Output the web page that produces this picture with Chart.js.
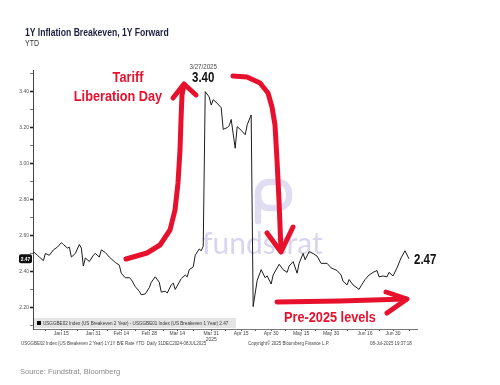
<!DOCTYPE html>
<html>
<head>
<meta charset="utf-8">
<script src="https://cdn.jsdelivr.net/npm/chart.js@4.4.1/dist/chart.umd.min.js"></script>
<style>
  html, body { margin: 0; padding: 0; background: #fff; }
  #wrap { position: relative; width: 500px; height: 385px; overflow: hidden; }
  #c { position: absolute; left: 0; top: 0; }
  .t { position: absolute; white-space: nowrap; line-height: 1; font-family: 'Liberation Sans', Arial, sans-serif; }
  .narrow { transform: scaleX(0.82); transform-origin: 0 0; }
</style>
</head>
<body>
<div id="wrap">
  <canvas id="c" width="500" height="385"></canvas>
  <div class="t narrow" style="left:25px;top:27px;font-size:10.5px;font-weight:bold;color:#1d2040">1Y Inflation Breakeven, 1Y Forward</div>
  <div class="t narrow" style="left:25px;top:39px;font-size:8.5px;color:#333">YTD</div>
  <div class="t" style="left:20px;top:368px;font-size:7.5px;color:#8a8a8a">Source: Fundstrat, Bloomberg</div>
</div>

<script>
// days counted from Jan 1 2025 (= 0), values in %
const days = [
  0, 2, 3, 5, 6, 8, 10, 12, 14, 15, 17, 18, 19, 21, 23, 24, 25, 26, 28, 30,
  31, 33, 34, 36, 38, 41, 43, 44, 46, 48, 49, 51, 53, 54, 56, 58, 59, 61, 63, 64,
  66, 67, 69, 70, 71, 73, 74, 76, 77, 78, 80, 81, 83, 84, 85,
  86, 88, 89, 90, 92, 94, 95, 97, 98, 99, 101, 102, 104, 106, 107, 109,
  110, 112, 114, 116, 117, 119, 120, 123, 125, 127, 128, 130, 132, 133, 135, 136, 138, 140,
  142, 144, 147, 149, 152, 154, 155, 157, 158, 160, 163, 164, 166, 168, 170, 172, 173,
  175, 177, 178, 180, 182, 184, 186, 188
];
const values = [
  2.51, 2.49, 2.48, 2.46, 2.50, 2.49, 2.52, 2.535, 2.56, 2.55, 2.53, 2.535, 2.48, 2.50, 2.55, 2.53, 2.43, 2.475, 2.455, 2.49,
  2.50, 2.48, 2.52, 2.505, 2.48, 2.45, 2.435, 2.39, 2.365, 2.365, 2.355, 2.315, 2.29, 2.27, 2.275, 2.31, 2.34, 2.37, 2.34, 2.285,
  2.29, 2.28, 2.325, 2.335, 2.30, 2.34, 2.36, 2.38, 2.37, 2.41, 2.425, 2.49, 2.525, 2.515, 2.54,
  3.40, 3.37, 3.325, 3.355, 3.335, 3.31, 3.19, 3.20, 3.21, 3.245, 3.085, 3.205, 3.185, 3.16, 3.215, 3.27,
  2.205, 2.35, 2.41, 2.365, 2.375, 2.33, 2.38, 2.44, 2.41, 2.395, 2.43, 2.455, 2.39, 2.445, 2.50, 2.465, 2.51, 2.50,
  2.485, 2.445, 2.445, 2.42, 2.405, 2.38, 2.345, 2.325, 2.355, 2.325, 2.30, 2.32, 2.355, 2.38, 2.395, 2.405, 2.37,
  2.375, 2.37, 2.395, 2.375, 2.42, 2.475, 2.515, 2.47
];
const tickDays = [14, 30, 44, 58, 72, 89, 104, 119, 134, 149, 166, 180];
const tickLabels = ['Jan 15', 'Jan 31', 'Feb 14', 'Feb 28', 'Mar 14', ['Mar 31', '2025'], 'Apr 15', 'Apr 30', 'May 15', 'May 30', 'Jun 16', 'Jun 30'];
const minorDays = [6, 22, 37, 51, 65, 80, 96, 111, 126, 141, 157, 173, 188];
const yTickValues = [2.1, 2.2, 2.3, 2.4, 2.5, 2.6, 2.7, 2.8, 2.9, 3.0, 3.1, 3.2, 3.3, 3.4, 3.5];
const peakDate = '3/27/2025';
const peakDay = 86;
const peakValue = 3.40;
const lastDay = 188;
const lastValue = 2.47;

const FONT = "'Liberation Sans', Arial, sans-serif";
const RED = '#e8112d';
const SQUEEZE = 0.82;

function stroke(ctx, pts) {
  ctx.beginPath();
  ctx.moveTo(pts[0][0], pts[0][1]);
  for (let i = 1; i < pts.length; i++) ctx.lineTo(pts[i][0], pts[i][1]);
  ctx.stroke();
}

// condensed text, like the Arial Narrow of the terminal
function narrowText(ctx, text, x, y) {
  ctx.save();
  ctx.translate(x, y);
  ctx.scale(SQUEEZE, 1);
  ctx.fillText(text, 0, 0);
  ctx.restore();
}

const watermark = {
  id: 'watermark',
  beforeDatasetsDraw(chart) {
    const ctx = chart.ctx;
    ctx.save();
    ctx.strokeStyle = '#e0ddf2';
    ctx.lineWidth = 6.5;
    ctx.lineCap = 'round';
    ctx.beginPath();
    ctx.roundRect(258, 182, 31, 26, 11);
    ctx.stroke();
    stroke(ctx, [[258, 196], [258, 221]]);
    ctx.fillStyle = '#d8d5ef';
    ctx.font = "30px Lato, 'Open Sans', sans-serif";
    ctx.textBaseline = 'alphabetic';
    ctx.fillText('fundstrat', 202, 254);
    ctx.restore();
  }
};

const annotate = {
  id: 'annotate',
  afterDraw(chart) {
    const { ctx, chartArea: a, scales: { x, y } } = chart;
    ctx.save();

    // in-plot legend
    ctx.fillStyle = '#e4e4e4';
    ctx.fillRect(a.left + 1, 318, 202, 10);
    ctx.fillStyle = '#000';
    ctx.fillRect(37, 321, 4, 4);
    ctx.fillStyle = '#333';
    ctx.font = '5.6px ' + FONT;
    ctx.textBaseline = 'middle';
    ctx.textAlign = 'left';
    narrowText(ctx, 'USGGBE02 Index (US Breakeven 2 Year) - USGGBE01 Index (US Breakeven 1 Year) ' + lastValue.toFixed(2), 43, 323.5);

    // footer
    ctx.font = '5.4px ' + FONT;
    ctx.fillStyle = '#444';
    narrowText(ctx, 'USGGBE02 Index (US Breakeven 2 Year) 1Y1Y B/E Rate YTD  Daily 31DEC2024-08JUL2025', 21, 343.5);
    narrowText(ctx, 'Copyright\u00a9 2025 Bloomberg Finance L.P.', 248, 343.5);
    narrowText(ctx, '08-Jul-2025 19:37:18', 370, 343.5);

    // last value tag on the y axis
    const ty = y.getPixelForValue(lastValue);
    ctx.fillStyle = '#111';
    ctx.beginPath();
    ctx.roundRect(19, ty - 4.5, 13, 9, 2);
    ctx.fill();
    ctx.fillStyle = '#fff';
    ctx.textAlign = 'center';
    ctx.font = 'bold 6px ' + FONT;
    narrowText(ctx, lastValue.toFixed(2), 25.5, ty);

    // peak label
    const px = x.getPixelForValue(peakDay) - 2;
    const py = y.getPixelForValue(peakValue);
    ctx.fillStyle = '#444';
    ctx.font = '7.5px ' + FONT;
    narrowText(ctx, peakDate, px, py - 25);
    ctx.fillStyle = '#111';
    ctx.font = 'bold 14px ' + FONT;
    narrowText(ctx, peakValue.toFixed(2), px, py - 13);

    // last value label
    ctx.textAlign = 'left';
    ctx.font = 'bold 14px ' + FONT;
    narrowText(ctx, lastValue.toFixed(2), x.getPixelForValue(lastDay) + 5, y.getPixelForValue(lastValue) + 1);

    // red hand-drawn annotations
    ctx.fillStyle = RED;
    ctx.textAlign = 'center';
    ctx.font = 'bold 15.5px ' + FONT;
    narrowText(ctx, 'Tariff', 128, 78);
    narrowText(ctx, 'Liberation Day', 118, 97);
    narrowText(ctx, 'Pre-2025 levels', 330, 318);

    ctx.strokeStyle = RED;
    ctx.lineWidth = 5;
    ctx.lineCap = 'round';
    ctx.lineJoin = 'round';
    stroke(ctx, [[126, 259], [133, 257], [147, 253], [160, 245], [170, 230], [175, 210], [178, 183], [180, 150], [181, 120], [182, 95], [184, 85]]);
    stroke(ctx, [[173, 98], [184, 84], [196, 95]]);
    stroke(ctx, [[233, 76], [247, 77], [260, 83], [268, 93], [272, 107], [275, 125], [277, 160], [279, 200], [281, 251]]);
    stroke(ctx, [[267, 233], [281, 252], [293, 227]]);
    stroke(ctx, [[277, 302], [340, 301], [406, 299]]);
    stroke(ctx, [[386, 292], [407, 299], [387, 313]]);

    ctx.restore();
  }
};

new Chart(document.getElementById('c'), {
  type: 'line',
  data: {
    datasets: [{
      data: days.map((d, i) => ({ x: d, y: values[i] })),
      borderColor: '#1c1c1c',
      borderWidth: 1,
      pointRadius: 0,
      tension: 0,
      fill: false,
    }],
  },
  options: {
    responsive: false,
    animation: false,
    devicePixelRatio: 1,
    layout: { padding: { left: 0, top: 70, right: 83, bottom: 36 } },
    plugins: { legend: { display: false }, tooltip: { enabled: false } },
    scales: {
      x: {
        type: 'linear',
        min: -0.2,
        max: 192,
        afterBuildTicks: scale => {
          scale.ticks = tickDays.concat(minorDays).sort((a, b) => a - b).map(v => ({ value: v }));
        },
        afterFit: scale => { scale.height = 20; },
        ticks: {
          autoSkip: false,
          maxRotation: 0,
          padding: 0,
          color: '#444',
          font: { family: FONT, size: 5 },
          callback: v => {
            const i = tickDays.indexOf(v);
            return i >= 0 ? tickLabels[i] : '';
          },
        },
        grid: {
          drawOnChartArea: false,
          drawTicks: true,
          tickLength: 2,
          tickColor: '#555',
          tickWidth: 1,
        },
        border: { display: true, color: '#777', width: 1 },
      },
      y: {
        min: 2.08,
        max: 3.52,
        afterBuildTicks: scale => {
          scale.ticks = yTickValues.map(v => ({ value: v }));
        },
        afterFit: scale => { scale.width = 33; },
        ticks: {
          padding: 1,
          color: '#555',
          font: { family: FONT, size: 5 },
          callback: v => (Math.round(v * 10) % 2 === 0 ? v.toFixed(2) : ''),
        },
        grid: {
          drawOnChartArea: false,
          drawTicks: true,
          tickLength: 3,
          tickColor: '#222',
          tickWidth: ctx => (Math.round(ctx.tick.value * 10) % 2 === 0 ? 1.6 : 0.6),
        },
        border: { display: true, color: '#444', width: 1 },
      },
    },
  },
  plugins: [watermark, annotate],
});
</script>
</body>
</html>
